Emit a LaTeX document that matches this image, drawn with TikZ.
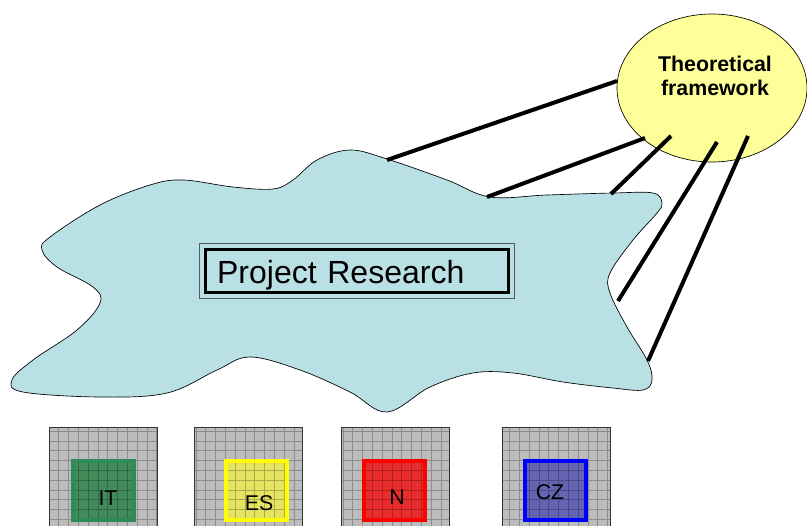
\documentclass[tikz,border=0pt]{standalone}
\usepackage{fontspec}
\setmainfont{Liberation Sans}
\usetikzlibrary{shapes.geometric}
\definecolor{cloudblue}{RGB}{185,224,228}
\definecolor{tfyellow}{RGB}{255,255,153}
\definecolor{boxgray}{RGB}{188,188,188}
\definecolor{itfill}{RGB}{66,140,92}
\definecolor{itline}{RGB}{46,139,87}
\definecolor{esfill}{RGB}{228,228,96}
\definecolor{esline}{RGB}{255,255,0}
\definecolor{nfill}{RGB}{232,44,44}
\definecolor{nline}{RGB}{255,0,0}
\definecolor{czfill}{RGB}{100,100,178}
\definecolor{czline}{RGB}{0,0,255}
\tikzset{
  link/.style={line width=3pt},
  gridline/.style={black, draw opacity=0.25, line width=0.5pt},
  tag/.style={font=\fontsize{16}{18}\selectfont}
}
\begin{document}
\begin{tikzpicture}[x=0.75pt,y=-0.75pt]
\clip (0,0) rectangle (807,525);
% cloud
\draw[fill=cloudblue, line width=0.5pt] plot[smooth cycle, tension=0.6] coordinates {
  (350,150) (387,159) (447,180) (490,197) (547,195) (613,193) (653,193) (662,203)
  (657,213) (633,240) (610,273) (610,293) (627,327) (647,360) (652,380) (643,390)
  (613,388) (563,382) (513,373) (473,373) (430,387) (387,412) (350,392) (300,370)
  (250,357) (217,370) (167,393) (100,397) (23,392) (12,380) (33,360) (77,330)
  (100,303) (93,287) (57,267) (42,250) (50,237) (100,205) (150,185) (183,180)
  (233,187) (273,189) (293,180) (317,160)};
% project box
\node[draw, line width=2.2pt, fill=cloudblue, minimum width=227pt, minimum height=32pt,
  text width=209.8pt, inner xsep=8.6pt, align=left, text height=21.5pt, text depth=3.5pt,
  font=\fontsize{24}{28}\selectfont] (pr) at (357,271) {Project Research};
\draw[gray!70!black, line width=0.5pt] ([xshift=-3.5pt,yshift=3.5pt]pr.north west)
  rectangle ([xshift=3.5pt,yshift=-3.5pt]pr.south east);
% theoretical framework
\node[ellipse, draw, fill=tfyellow, line width=0.5pt, minimum width=142.5pt,
  minimum height=111pt, inner sep=0pt] (tf) at (712,88) {};
\node[align=center, font=\bfseries\fontsize{16}{18}\selectfont] (tftext) at (715,76)
  {Theoretical\\framework};
% links
\coordinate (c1) at (387,160); \coordinate (t1) at (617,81);
\coordinate (c2) at (487,197); \coordinate (t2) at (645,138);
\coordinate (c3) at (611,194); \coordinate (t3) at (671,136);
\coordinate (c4) at (618,301); \coordinate (t4) at (717,142);
\coordinate (c5) at (648,361); \coordinate (t5) at (748,136);
\foreach \i in {1,...,5}
  \draw[link] (c\i) -- (t\i);
% countries
\foreach \bx/\sx/\fc/\lc/\lab/\lx/\ly in {49/71/itfill/itline/IT/108/498,
    194/224/esfill/esline/ES/259/503, 341/362/nfill/nline/N/397/497,
    502/523/czfill/czline/CZ/550/492}
{
  \fill[boxgray] (\bx,427) rectangle ({\bx+108},540);
  \fill[\fc] (\sx,459) rectangle ({\sx+65},522);
  \begin{scope}
    \clip (\bx,427) rectangle ({\bx+108},540);
    \draw[gridline, step=7.35pt] (\bx,427) grid ({\bx+108},540);
  \end{scope}
  \draw[\lc, line width=3pt] ({\sx+2},461) rectangle ({\sx+63},520);
  \draw[gray!40!black, line width=0.6pt] (\bx,427) rectangle ({\bx+108},540);
  \node[tag] (\lab) at (\lx,\ly) {\lab};
}
\end{tikzpicture}
\end{document}
